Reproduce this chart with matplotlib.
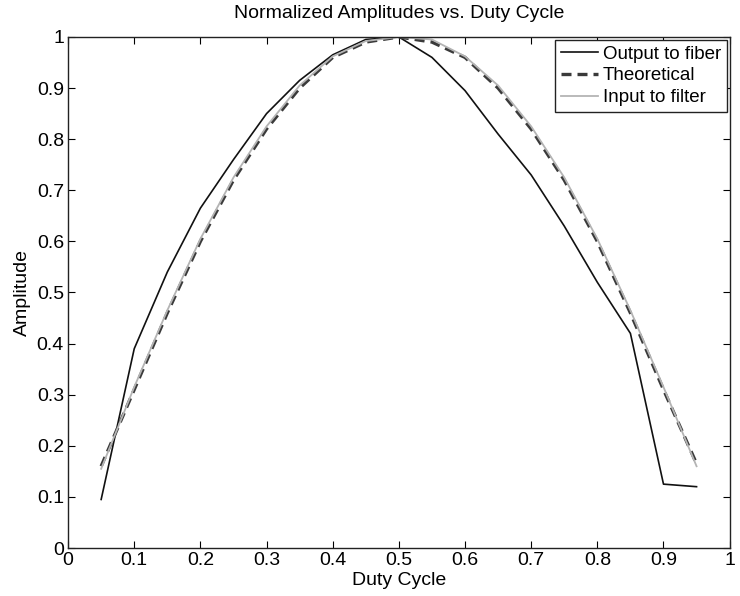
import matplotlib
matplotlib.use('Agg')
import matplotlib.pyplot as plt

plt.rcParams['font.family'] = ['Liberation Sans', 'DejaVu Sans']

duty = [0.05, 0.10, 0.15, 0.20, 0.25, 0.30, 0.35, 0.40, 0.45, 0.50,
        0.55, 0.60, 0.65, 0.70, 0.75, 0.80, 0.85, 0.90, 0.95]

output_fiber = [0.095, 0.39, 0.54, 0.665, 0.76, 0.85, 0.915, 0.965, 0.995, 1.0,
                0.96, 0.895, 0.81, 0.73, 0.63, 0.52, 0.42, 0.125, 0.12]
theoretical = [0.16, 0.31, 0.46, 0.60, 0.72, 0.82, 0.90, 0.96, 0.99, 1.0,
               0.99, 0.96, 0.90, 0.82, 0.72, 0.60, 0.46, 0.31, 0.165]
input_filter = [0.155, 0.315, 0.465, 0.605, 0.725, 0.825, 0.905, 0.962, 0.992, 1.0,
                0.995, 0.962, 0.905, 0.825, 0.725, 0.605, 0.465, 0.315, 0.16]

fig = plt.figure(figsize=(7.4, 5.96), dpi=100)
ax = fig.add_axes([0.092, 0.0805, 0.894, 0.8575])

ax.plot(duty, output_fiber, color='#111111', lw=1.2, label='Output to fiber')
ax.plot(duty, theoretical, color='#3a3a3a', lw=2.4, ls=(0, (3, 1.8)), label='Theoretical')
ax.plot(duty, input_filter, color='#b4b4b4', lw=1.3, label='Input to filter')

ax.set_xlim(0, 1)
ax.set_ylim(0, 1)
ticks = [i / 10 for i in range(11)]
tick_labels = ['0', '0.1', '0.2', '0.3', '0.4', '0.5', '0.6', '0.7', '0.8', '0.9', '1']
ax.set_xticks(ticks)
ax.set_yticks(ticks)
ax.set_xticklabels(tick_labels)
ax.set_yticklabels(tick_labels)
ax.tick_params(direction='in', top=True, right=True, length=5, labelsize=14, pad=3)
for s in ax.spines.values():
    s.set_linewidth(1.0)
    s.set_color('#222222')

ax.set_title('Normalized Amplitudes vs. Duty Cycle', fontsize=14, pad=14)
ax.set_xlabel('Duty Cycle', fontsize=14, labelpad=2)
ax.set_ylabel('Amplitude', fontsize=14, labelpad=4)

leg = ax.legend(loc='upper right', fontsize=13.5, frameon=True, fancybox=False,
                edgecolor='#222222', framealpha=1, handlelength=2.0,
                handletextpad=0.25, borderpad=0.3, labelspacing=0.25,
                borderaxespad=0.15)
leg.get_frame().set_linewidth(1.0)

fig.savefig('out.png', dpi=100)
